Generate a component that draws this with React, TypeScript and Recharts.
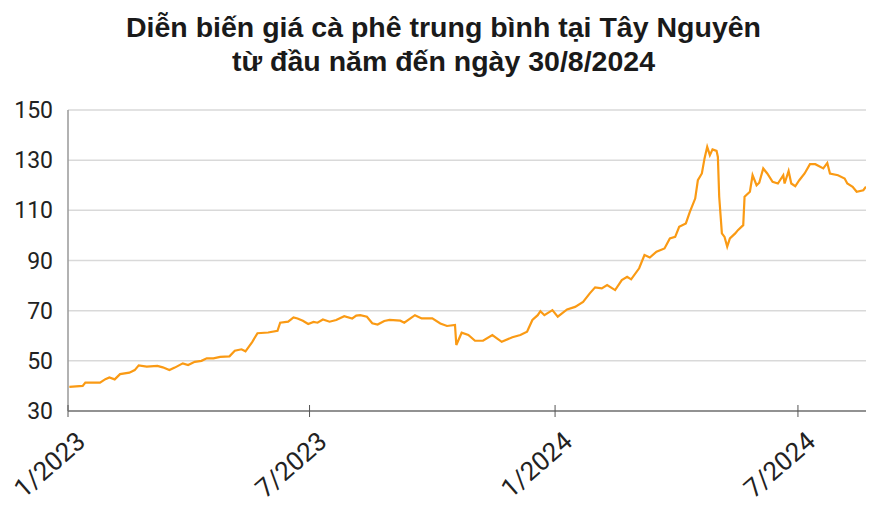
import { LineChart, Line, XAxis, YAxis, CartesianGrid } from 'recharts';

// days since 1/1/2023
const days = [
    1, 11, 13, 24, 28, 31, 35, 39, 46, 50, 53, 59, 67, 71, 76, 80, 86, 90, 95, 100,
    104, 109, 114, 121, 125, 130, 133, 138, 142, 150, 157, 159, 165, 169, 172, 176, 180, 184, 187, 191,
    196, 201, 207, 213, 216, 219, 224, 228, 232, 237, 241, 249, 252, 260, 265, 273, 279, 284, 290, 291,
    295, 300, 305, 311, 318, 325, 333, 339, 344, 348, 352, 354, 357, 363, 367, 374, 380, 386, 391, 395,
    400, 404, 410, 415, 419, 422, 428, 432, 436, 441, 447, 451, 455, 458, 463, 466, 470, 472, 475, 477,
    479, 481, 483, 486, 487, 488, 490, 492, 494, 496, 500, 502, 506, 507, 511, 513, 516, 518, 521, 524,
    528, 532, 536, 537, 540, 542, 545, 548, 552, 556, 560, 566, 569, 571, 577, 582, 584, 588, 591, 596,
    598,
];

// average price (thousand VND/kg)
const prices = [
    39.6, 40, 41.3, 41.3, 42.7, 43.4, 42.6, 44.7, 45.3, 46.3, 48.2, 47.7, 48, 47.4, 46.3, 47.3, 49, 48.3, 49.6, 50,
    51, 51, 51.6, 51.8, 54, 54.6, 53.8, 57.5, 61, 61.3, 62, 65.2, 65.6, 67.3, 66.9, 66, 64.7, 65.5, 65.2, 66.5,
    65.6, 66.3, 67.8, 66.9, 68, 68.2, 67.6, 65, 64.5, 65.9, 66.3, 66, 65.2, 68.2, 66.9, 66.9, 64.9, 63.9, 64.3, 56.3,
    61.2, 60.3, 58, 58, 60.3, 57.6, 59.4, 60.3, 61.6, 66.3, 68.2, 69.8, 68.2, 70.2, 67.6, 70.5, 71.5, 73.5, 76.9, 79.3,
    78.9, 80.2, 78.2, 82.2, 83.5, 82.5, 86.9, 92.2, 91.2, 93.5, 94.8, 98.8, 99.4, 103.4, 104.8, 109.4, 114.7, 122, 124.7, 130.7,
    135.3, 132, 134.3, 133.7, 131.3, 115.4, 100.8, 99.4, 95.5, 98.8, 100.8, 102.1, 104.1, 115.4, 117.4, 124, 120, 121, 126.7, 124.7,
    121.4, 120.7, 124, 120.7, 125.7, 120.7, 119.6, 122, 124.7, 128.4, 128.4, 126.7, 128.9, 124.7, 124, 122.7, 120.7, 119.4, 117.4, 118,
    119.4,
];

const xTicks = [0, 181, 365, 547];
const xTickLabels = ['1/2023', '7/2023', '1/2024', '7/2024'];
const yTicks = [30, 50, 70, 90, 110, 130, 150];

const titleLines = [
    'Diễn biến giá cà phê trung bình tại Tây Nguyên',
    'từ đầu năm đến ngày 30/8/2024',
];

const data = days.map((d, i) => ({ day: d, price: prices[i] }));

const tickFont = 'Roboto, "Liberation Sans", Arial, sans-serif';

function DateTick(props: any) {
    const { x, y, payload } = props;
    const i = xTicks.indexOf(payload.value);
    const ax = x + 19;
    const ay = y + 31;
    return (
        <g>
            <line x1={x} y1={y - 8} x2={x} y2={y + 4} stroke="#555" strokeWidth={1} />
            <text
                x={ax}
                y={ay}
                textAnchor="end"
                transform={`rotate(-41, ${ax}, ${ay})`}
                fontFamily={tickFont}
                fontSize={26}
                fill="#222"
            >
                {xTickLabels[i]}
            </text>
        </g>
    );
}

export default function App() {
    return (
        <div style={{ position: 'relative', width: 871, height: 500 }}>
            <div
                style={{
                    position: 'absolute',
                    top: 2,
                    left: 0,
                    width: 871,
                    textAlign: 'center',
                    fontFamily: '"Liberation Sans", Arial, sans-serif',
                    fontWeight: 'bold',
                    fontSize: 28.5,
                    lineHeight: '34px',
                    color: '#1a1a1a',
                }}
            >
                {titleLines.map((t) => (
                    <div key={t}>{t}</div>
                ))}
            </div>
            <LineChart
                width={871}
                height={500}
                data={data}
                margin={{ top: 102, right: 13, left: 0, bottom: 37 }}
            >
                <CartesianGrid vertical={false} stroke="#d9d9d9" strokeWidth={1.5} />
                <XAxis
                    dataKey="day"
                    type="number"
                    domain={[0, 598]}
                    ticks={xTicks}
                    allowDataOverflow
                    height={60}
                    tickSize={0}
                    tickLine={false}
                    interval={0}
                    stroke="#777"
                    strokeWidth={1.5}
                    tick={<DateTick />}
                />
                <YAxis
                    domain={[30, 150]}
                    ticks={yTicks}
                    width={60}
                    tickSize={0}
                    tickMargin={15}
                    tickLine={false}
                    stroke="#999"
                    strokeWidth={1.5}
                    tick={{ fontFamily: tickFont, fontSize: 23, fill: '#222' }}
                />
                <Line
                    type="linear"
                    dataKey="price"
                    stroke="#FA9A14"
                    strokeWidth={2.2}
                    dot={false}
                    isAnimationActive={false}
                />
            </LineChart>
        </div>
    );
}
